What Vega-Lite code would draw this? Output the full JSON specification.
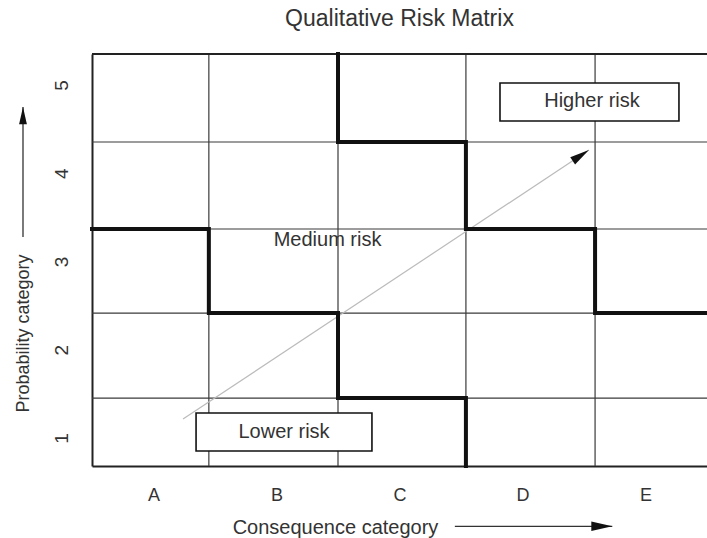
{
  "$schema": "https://vega.github.io/schema/vega-lite/v6.json",
  "width": 615,
  "height": 412,
  "autosize": {"type": "none"},
  "padding": {"left": 92, "top": 54, "right": 0, "bottom": 72},
  "background": "white",
  "config": {
    "view": {"stroke": null},
    "font": "Liberation Sans"
  },
  "title": {
    "text": "Qualitative Risk Matrix",
    "fontSize": 23,
    "fontWeight": "normal",
    "font": "Liberation Sans",
    "color": "#333333",
    "anchor": "middle",
    "frame": "group",
    "offset": 15
  },
  "datasets": {
    "vgrid": [{"x": 1.45}, {"x": 2.5}, {"x": 3.54}, {"x": 4.59}],
    "hgrid": [{"y": 1.453}, {"y": 2.416}, {"y": 3.368}, {"y": 4.354}],
    "border": [{"y": 5.351}],
    "steps": [
      {"boundary": "lower", "step": 1, "x": 0.5, "y": 3.368},
      {"boundary": "lower", "step": 2, "x": 1.45, "y": 3.368},
      {"boundary": "lower", "step": 3, "x": 1.45, "y": 2.416},
      {"boundary": "lower", "step": 4, "x": 2.5, "y": 2.416},
      {"boundary": "lower", "step": 5, "x": 2.5, "y": 1.453},
      {"boundary": "lower", "step": 6, "x": 3.54, "y": 1.453},
      {"boundary": "lower", "step": 7, "x": 3.54, "y": 0.683},
      {"boundary": "upper", "step": 1, "x": 2.5, "y": 5.351},
      {"boundary": "upper", "step": 2, "x": 2.5, "y": 4.354},
      {"boundary": "upper", "step": 3, "x": 3.54, "y": 4.354},
      {"boundary": "upper", "step": 4, "x": 3.54, "y": 3.368},
      {"boundary": "upper", "step": 5, "x": 4.59, "y": 3.368},
      {"boundary": "upper", "step": 6, "x": 4.59, "y": 2.416},
      {"boundary": "upper", "step": 7, "x": 5.5, "y": 2.416}
    ],
    "boxes": [
      {"label": "Higher risk", "x": 3.817, "x2": 5.272, "y": 4.592, "y2": 5.023},
      {"label": "Lower risk", "x": 1.346, "x2": 2.776, "y": 0.853, "y2": 1.283}
    ],
    "texts": [
      {"label": "Higher risk", "x": 4.565, "y": 4.819},
      {"label": "Lower risk", "x": 2.061, "y": 1.068},
      {"label": "Medium risk", "x": 2.415, "y": 3.244}
    ],
    "trend": [{"x": 1.24, "y": 1.215, "x2": 4.54, "y2": 4.263}],
    "trendHead": [{"x": 4.54, "y": 4.263}],
    "xArrow": [{"x": 3.45, "x2": 4.73, "y": 0.0}],
    "xHead": [{"x": 4.73, "y": 0.0}],
    "yArrow": [{"x": -0.061, "y": 3.278, "y2": 4.751}],
    "yHead": [{"x": -0.061, "y": 4.751}]
  },
  "layer": [
    {
      "data": {"name": "vgrid"},
      "mark": {"type": "rule", "stroke": "#3a3a3a", "strokeWidth": 1.2},
      "encoding": {
        "x": {
          "field": "x",
          "type": "quantitative",
          "scale": {"domain": [0.5, 5.5], "nice": false, "zero": false},
          "axis": {
            "values": [1, 2, 3, 4, 5],
            "labelExpr": "['A','B','C','D','E'][datum.value - 1]",
            "ticks": false,
            "grid": false,
            "domainColor": "#222222",
            "domainWidth": 2,
            "labelFont": "Liberation Sans",
            "labelFontSize": 18,
            "labelColor": "#333333",
            "labelPadding": 20,
            "title": "Consequence category",
            "titleFont": "Liberation Sans",
            "titleFontSize": 20,
            "titleFontWeight": "normal",
            "titleColor": "#333333",
            "titleAnchor": "start",
            "titleAlign": "center",
            "titleBaseline": "middle",
            "titleX": 243,
            "titleY": 61
          }
        }
      }
    },
    {
      "data": {"name": "hgrid"},
      "mark": {"type": "rule", "stroke": "#3a3a3a", "strokeWidth": 1.2},
      "encoding": {
        "y": {
          "field": "y",
          "type": "quantitative",
          "scale": {"domain": [0.683, 5.351], "nice": false, "zero": false},
          "axis": {
            "values": [1, 2, 3, 4, 5],
            "format": "d",
            "ticks": false,
            "grid": false,
            "domainColor": "#222222",
            "domainWidth": 2,
            "labelAngle": -90,
            "labelAlign": "center",
            "labelBaseline": "bottom",
            "labelFont": "Liberation Sans",
            "labelFontSize": 19,
            "labelColor": "#333333",
            "labelPadding": 21,
            "title": "Probability category",
            "titleFont": "Liberation Sans",
            "titleFontSize": 18,
            "titleFontWeight": "normal",
            "titleColor": "#333333",
            "titleAngle": -90,
            "titleAnchor": "start",
            "titleAlign": "center",
            "titleBaseline": "middle",
            "titleX": -69,
            "titleY": 279
          }
        }
      }
    },
    {
      "data": {"name": "border"},
      "mark": {"type": "rule", "stroke": "#222222", "strokeWidth": 2},
      "encoding": {"y": {"field": "y", "type": "quantitative"}}
    },
    {
      "data": {"name": "trend"},
      "mark": {"type": "rule", "stroke": "#bbbbbb", "strokeWidth": 1.2},
      "encoding": {
        "x": {"field": "x", "type": "quantitative"},
        "y": {"field": "y", "type": "quantitative"},
        "x2": {"field": "x2"},
        "y2": {"field": "y2"}
      }
    },
    {
      "data": {"name": "steps"},
      "mark": {"type": "line", "stroke": "#111111", "strokeWidth": 4, "strokeJoin": "miter", "strokeCap": "square"},
      "encoding": {
        "x": {"field": "x", "type": "quantitative"},
        "y": {"field": "y", "type": "quantitative"},
        "detail": {"field": "boundary"},
        "order": {"field": "step", "type": "quantitative"}
      }
    },
    {
      "data": {"name": "boxes"},
      "mark": {"type": "rect", "fill": "white", "stroke": "#111111", "strokeWidth": 1.6},
      "encoding": {
        "x": {"field": "x", "type": "quantitative"},
        "x2": {"field": "x2"},
        "y": {"field": "y", "type": "quantitative"},
        "y2": {"field": "y2"}
      }
    },
    {
      "data": {"name": "texts"},
      "mark": {"type": "text", "font": "Liberation Sans", "fontSize": 20, "fill": "#333333", "align": "center", "baseline": "middle"},
      "encoding": {
        "x": {"field": "x", "type": "quantitative"},
        "y": {"field": "y", "type": "quantitative"},
        "text": {"field": "label"}
      }
    },
    {
      "data": {"name": "trendHead"},
      "mark": {"type": "point", "shape": "M0,0L0.45,2L-0.45,2Z", "filled": true, "fill": "#111111", "opacity": 1, "size": 380, "angle": 56.5},
      "encoding": {
        "x": {"field": "x", "type": "quantitative"},
        "y": {"field": "y", "type": "quantitative"}
      }
    },
    {
      "data": {"name": "xArrow"},
      "mark": {"type": "rule", "stroke": "#333333", "strokeWidth": 1.3},
      "encoding": {
        "x": {"field": "x", "type": "quantitative"},
        "x2": {"field": "x2"},
        "y": {"field": "y", "type": "quantitative"}
      }
    },
    {
      "data": {"name": "xHead"},
      "mark": {"type": "point", "shape": "M0,0L0.45,2L-0.45,2Z", "filled": true, "fill": "#111111", "opacity": 1, "size": 440, "angle": 90},
      "encoding": {
        "x": {"field": "x", "type": "quantitative"},
        "y": {"field": "y", "type": "quantitative"}
      }
    },
    {
      "data": {"name": "yArrow"},
      "mark": {"type": "rule", "stroke": "#333333", "strokeWidth": 1.3},
      "encoding": {
        "x": {"field": "x", "type": "quantitative"},
        "y": {"field": "y", "type": "quantitative"},
        "y2": {"field": "y2"}
      }
    },
    {
      "data": {"name": "yHead"},
      "mark": {"type": "point", "shape": "M0,0L0.45,2L-0.45,2Z", "filled": true, "fill": "#111111", "opacity": 1, "size": 300, "angle": 0},
      "encoding": {
        "x": {"field": "x", "type": "quantitative"},
        "y": {"field": "y", "type": "quantitative"}
      }
    }
  ]
}
